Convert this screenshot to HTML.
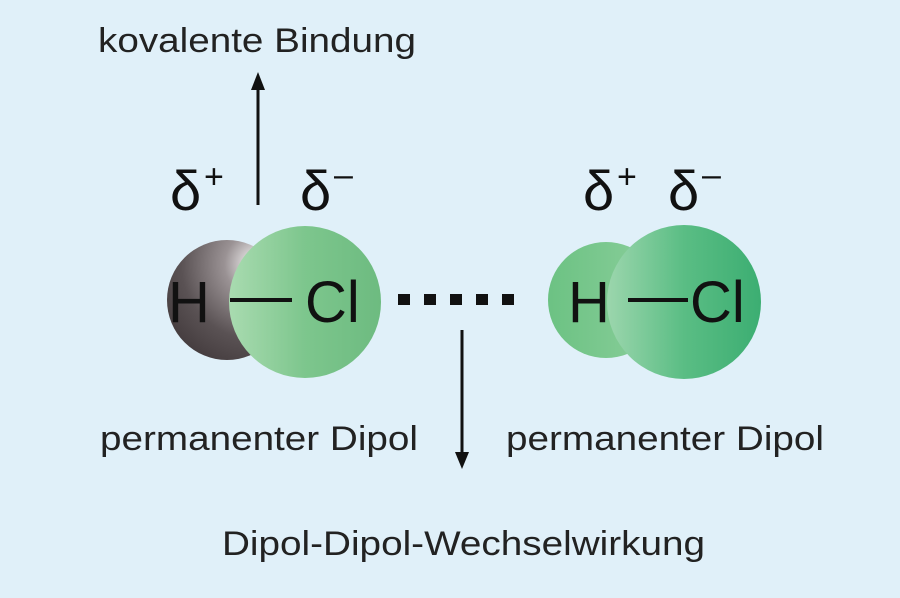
<!DOCTYPE html>
<html><head><meta charset="utf-8"><style>
body{margin:0;width:900px;height:593px;background:#e0f0f9;overflow:hidden}
</style></head><body>
<svg width="900" height="593" viewBox="0 0 900 593" xmlns="http://www.w3.org/2000/svg" font-family="Liberation Sans, sans-serif">
<defs>
<radialGradient id="hg" cx="0.75" cy="0.2" r="0.9">
<stop offset="0" stop-color="#ffffff"/><stop offset="0.3" stop-color="#9a9294"/><stop offset="0.7" stop-color="#5a5254"/><stop offset="1" stop-color="#453d3f"/></radialGradient>
<linearGradient id="cl1" x1="0" x2="1"><stop offset="0" stop-color="#a9dbb0"/><stop offset="0.5" stop-color="#7dc68d"/><stop offset="1" stop-color="#6dbb80"/></linearGradient>
<linearGradient id="h2" x1="0" x2="1"><stop offset="0" stop-color="#6cc283"/><stop offset="1" stop-color="#8ccf9c"/></linearGradient>
<linearGradient id="cl2" x1="0" x2="1"><stop offset="0" stop-color="#9cd6ad"/><stop offset="0.5" stop-color="#5abd84"/><stop offset="1" stop-color="#3cae72"/></linearGradient>
</defs>
<text x="98" y="52" font-size="34" fill="#222" textLength="318" lengthAdjust="spacingAndGlyphs">kovalente Bindung</text>
<line x1="258" y1="205" x2="258" y2="88" stroke="#111" stroke-width="3"/>
<polygon points="258,72 251,90 265,90" fill="#111"/>
<text x="170" y="210" font-size="56" fill="#111">δ</text><text x="204" y="188" font-size="34" fill="#111">+</text>
<text x="300" y="210" font-size="56" fill="#111">δ</text><text x="334" y="186" font-size="34" fill="#111">–</text>
<text x="583" y="210" font-size="56" fill="#111">δ</text><text x="617" y="188" font-size="34" fill="#111">+</text>
<text x="668" y="210" font-size="56" fill="#111">δ</text><text x="702" y="186" font-size="34" fill="#111">–</text>
<circle cx="227" cy="300" r="60" fill="url(#hg)"/>
<circle cx="305" cy="302" r="76" fill="url(#cl1)"/>
<circle cx="606" cy="300" r="58" fill="url(#h2)"/>
<circle cx="684" cy="302" r="77" fill="url(#cl2)"/>
<text x="168" y="322" font-size="58" fill="#111">H</text>
<line x1="230" y1="300" x2="292" y2="300" stroke="#111" stroke-width="4"/>
<text x="305" y="322" font-size="58" fill="#111">Cl</text>
<text x="568" y="322" font-size="58" fill="#111">H</text>
<line x1="628" y1="300" x2="688" y2="300" stroke="#111" stroke-width="4"/>
<text x="690" y="322" font-size="58" fill="#111">Cl</text>
<g fill="#111"><rect x="398" y="294" width="12" height="11"/><rect x="424" y="294" width="12" height="11"/><rect x="450" y="294" width="12" height="11"/><rect x="476" y="294" width="12" height="11"/><rect x="502" y="294" width="12" height="11"/></g>
<line x1="462" y1="330" x2="462" y2="455" stroke="#111" stroke-width="3"/>
<polygon points="462,469 455,452 469,452" fill="#111"/>
<text x="100" y="450" font-size="34" fill="#222" textLength="318" lengthAdjust="spacingAndGlyphs">permanenter Dipol</text>
<text x="506" y="450" font-size="34" fill="#222" textLength="318" lengthAdjust="spacingAndGlyphs">permanenter Dipol</text>
<text x="222" y="555" font-size="34" fill="#222" textLength="483" lengthAdjust="spacingAndGlyphs">Dipol-Dipol-Wechselwirkung</text>
</svg>
</body></html>
